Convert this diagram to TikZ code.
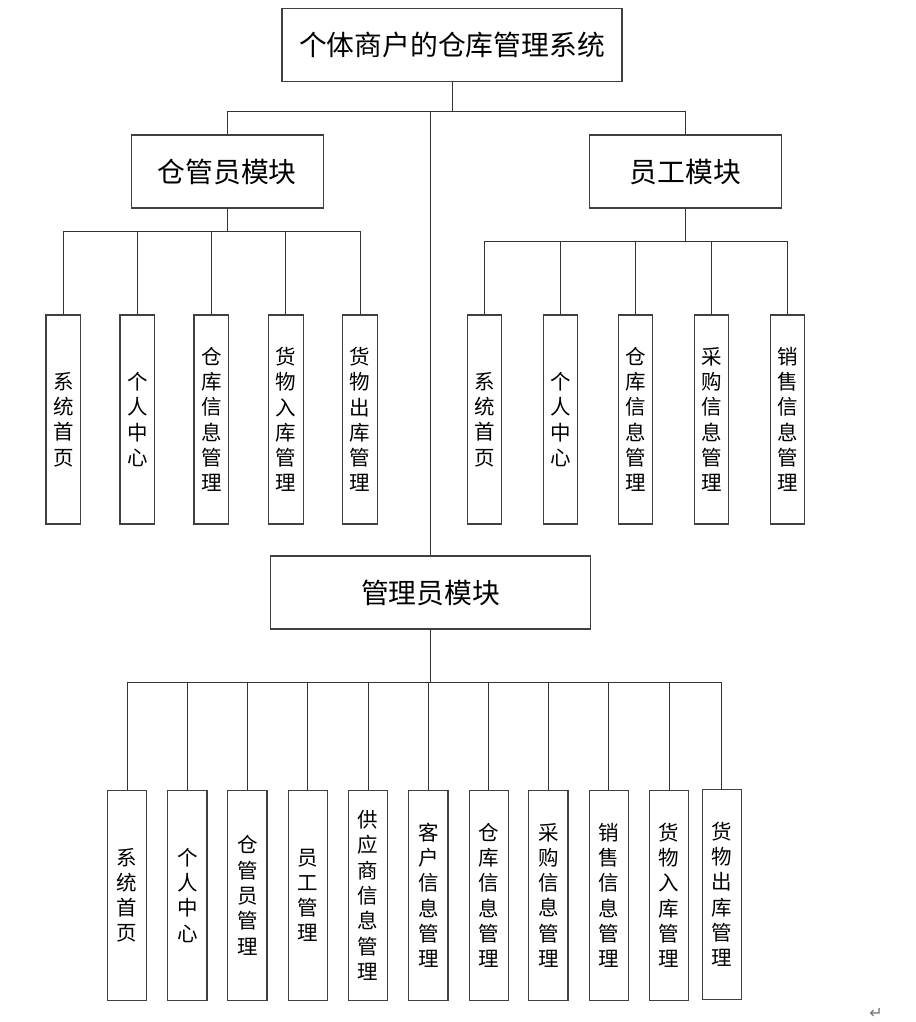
\documentclass[tikz,border=0pt]{standalone}
\usepackage{fontspec}
\newfontfamily\cjk{Noto Sans CJK SC}
\newfontfamily\dvs{DejaVu Sans}
\begin{document}
\begin{tikzpicture}[x=1pt,y=-1pt,
  box/.style={draw=black!75,line width=1.1pt,fill=white,inner sep=0pt,font=\cjk},
  bigbox/.style={box,minimum width=#1,minimum height=73pt,font=\cjk\fontsize{27.8}{30}\selectfont},
  vbox/.style={box,minimum width=#1,minimum height=209pt,align=center,font=\cjk\fontsize{20.5}{25.3}\selectfont},
  conn/.style={draw=black!80,line width=0.9pt}]
\useasboundingbox (0,0) rectangle (915,1022);
\fill[white] (0,0) rectangle (915,1022);

% top and modules
\node[bigbox=340pt] (top) at (452,44.8) {个体商户的仓库管理系统};
\node[bigbox=192pt] (ck) at (227.2,171.5) {仓管员模块};
\node[bigbox=192pt] (yg) at (685.5,171.5) {员工模块};
\node[bigbox=320pt] (gl) at (430.5,592.5) {管理员模块};

\coordinate (b1) at (452,111.7);
\draw[conn] (top.south) -- (b1);
\draw[conn] (ck.north) -- (ck.north |- b1) -- (yg.north |- b1) -- (yg.north);
\draw[conn] (gl.north) -- (gl.north |- b1);

% left group
\coordinate (bl) at (0,231.3);
\foreach \i/\x/\t in {1/63.3/系\\统\\首\\页, 2/137.3/个\\人\\中\\心, 3/211.3/仓\\库\\信\\息\\管\\理, 4/285.7/货\\物\\入\\库\\管\\理, 5/360/货\\物\\出\\库\\管\\理}{
  \node[vbox=34.7pt] (l\i) at (\x,419.5) {\t};
  \draw[conn] (l\i.north) -- (l\i.north |- bl);
}
\draw[conn] (ck.south) -- (ck.south |- bl);
\draw[conn] (l1.north |- bl) -- (l5.north |- bl);

% right group
\coordinate (br) at (0,241.3);
\foreach \i/\x/\t in {1/484.5/系\\统\\首\\页, 2/560.3/个\\人\\中\\心, 3/635.7/仓\\库\\信\\息\\管\\理, 4/711.7/采\\购\\信\\息\\管\\理, 5/787.3/销\\售\\信\\息\\管\\理}{
  \node[vbox=33.7pt] (r\i) at (\x,419.5) {\t};
  \draw[conn] (r\i.north) -- (r\i.north |- br);
}
\draw[conn] (yg.south) -- (yg.south |- br);
\draw[conn] (r1.north |- br) -- (r5.north |- br);

% admin group
\coordinate (ba) at (0,682.7);
\foreach \i/\x/\t in {1/127/系\\统\\首\\页, 2/187.3/个\\人\\中\\心, 3/247.3/仓\\管\\员\\管\\理, 4/307.7/员\\工\\管\\理, 5/368/供\\应\\商\\信\\息\\管\\理, 6/428.3/客\\户\\信\\息\\管\\理, 7/488.7/仓\\库\\信\\息\\管\\理, 8/548.3/采\\购\\信\\息\\管\\理, 9/608.7/销\\售\\信\\息\\管\\理, 10/669/货\\物\\入\\库\\管\\理}{
  \node[vbox=39.3pt,minimum height=210pt] (a\i) at (\x,895.3) {\t};
  \draw[conn] (a\i.north) -- (a\i.north |- ba);
}
\node[vbox=39pt,minimum height=210pt] (a11) at (721.8,894.2) {货\\物\\出\\库\\管\\理};
\draw[conn] (a11.north) -- (a11.north |- ba);
\draw[conn] (gl.south) -- (gl.south |- ba);
\draw[conn] (a1.north |- ba) -- (a11.north |- ba);

\node[text=black!55,font=\dvs\fontsize{16}{16}\selectfont] (ret) at (876,1013) {↵};
\end{tikzpicture}
\end{document}
